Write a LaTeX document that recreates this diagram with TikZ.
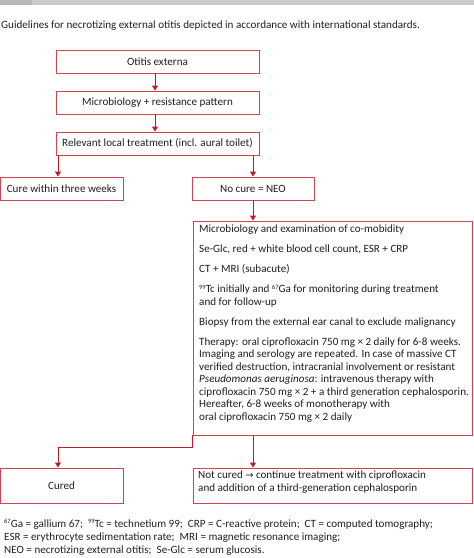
\documentclass[tikz,border=0pt]{standalone}
\usepackage{fontspec}
\setmainfont{Carlito}
\newfontfamily\symf{DejaVu Sans}
\usetikzlibrary{arrows.meta,calc}
\definecolor{boxred}{RGB}{206,70,82}
\definecolor{arrred}{RGB}{190,28,44}
\definecolor{txt}{RGB}{35,31,32}
\definecolor{barg}{RGB}{208,201,199}
\definecolor{bargd}{RGB}{190,182,180}
\newcommand{\sups}[1]{\raisebox{3.5pt}{\fontsize{6.5}{7}\selectfont #1}}
\begin{document}
\begin{tikzpicture}[x=1pt,y=-1pt,
  every node/.style={text=txt,font=\fontsize{11.1}{12.5}\selectfont},
  box/.style={draw=boxred,line width=0.9pt,inner sep=0pt,fill=white},
  arr/.style={draw=arrred,line width=0.9pt,-{Triangle[width=6pt,length=5pt]}},
  lbl/.style={inner sep=0pt,anchor=north west,align=left}]
\useasboundingbox (0,0) rectangle (474,558);
\fill[barg] (0,0) rectangle (474,5);
\fill[bargd] (0,0) rectangle (32,5);
\node[inner sep=0pt,anchor=base west] (title) at (1,28) {Guidelines for necrotizing external otitis depicted in accordance with international standards.};
% boxes
\node[box,minimum width=203pt,minimum height=23pt] (b1) at (157.5,61.5) {Otitis externa};
\node[box,minimum width=203pt,minimum height=23pt] (b2) at (157.5,102.5) {Microbiology + resistance pattern};
\node[box,minimum width=203pt,minimum height=23pt] (b3) at (157.5,143.5) {Relevant local treatment (incl. aural toilet)};
\node[box,minimum width=123pt,minimum height=23pt] (cure) at (61.5,188.5) {Cure within three weeks};
\node[box,minimum width=122pt,minimum height=23pt] (nocure) at (253,188.5) {No cure = NEO};
\node[box,minimum width=279pt,minimum height=214pt] (big) at (332.5,328) {};
\node[lbl] (bigtext) at (199,225) {Microbiology and examination of co-mobidity\\[7.5pt]
Se-Glc, red + white blood cell count, ESR + CRP\\[7.5pt]
CT + MRI (subacute)\\[7.5pt]
\sups{99}Tc initially and \sups{67}Ga for monitoring during treatment\\
and for follow-up\\[7.5pt]
Biopsy from the external ear canal to exclude malignancy\\[7.5pt]
Therapy: oral ciprofloxacin 750 mg × 2 daily for 6-8 weeks.\\
Imaging and serology are repeated. In case of massive CT\\
verified destruction, intracranial involvement or resistant\\
\textit{Pseudomonas aeruginosa}: intravenous therapy with\\
ciprofloxacin 750 mg × 2 + a third generation cephalosporin.\\
Hereafter, 6-8 weeks of monotherapy with\\
oral ciprofloxacin 750 mg × 2 daily};
\node[box,minimum width=123pt,minimum height=35pt] (cured) at (61.5,485.5) {Cured};
\node[box,minimum width=279pt,minimum height=35pt] (notcured) at (332.5,485.5) {};
\node[lbl] (nctext) at (198,471) {Not cured {\symf\fontsize{9.5}{12.5}\selectfont →} continue treatment with ciprofloxacin\\
and addition of a third-generation cephalosporin};
% connectors
\draw[arr] ([xshift=-2.5pt]b1.south) -- ([xshift=-2.5pt]b2.north);
\draw[arr] ([xshift=-2.5pt]b2.south) -- ([xshift=-2.5pt]b3.north);
\draw[arr] ([xshift=-3.5pt]cure.north |- b3.south) -- ([xshift=-3.5pt]cure.north);
\draw[arr] (nocure.north |- b3.south) -- (nocure.north);
\draw[arr] (nocure.south) -- (nocure.south |- big.north);
\draw[arr] (nocure.south |- big.south) -- (nocure.south |- notcured.north);
\draw[arr] (big.south west) -- ++(0,12) -| ([xshift=-3.5pt]cured.north);
% footnote
\node[inner sep=0pt,anchor=base west] (fn1) at (4,527) {\sups{67}Ga = gallium 67;\ \ \sups{99}Tc = technetium 99;\ \ CRP = C-reactive protein;\ \ CT = computed tomography;};
\node[inner sep=0pt,anchor=base west] (fn2) at (4,540) {ESR = erythrocyte sedimentation rate;\ \ MRI = magnetic resonance imaging;};
\node[inner sep=0pt,anchor=base west] (fn3) at (4,553) {NEO = necrotizing external otitis;\ \ Se-Glc = serum glucosis.};
\end{tikzpicture}
\end{document}
